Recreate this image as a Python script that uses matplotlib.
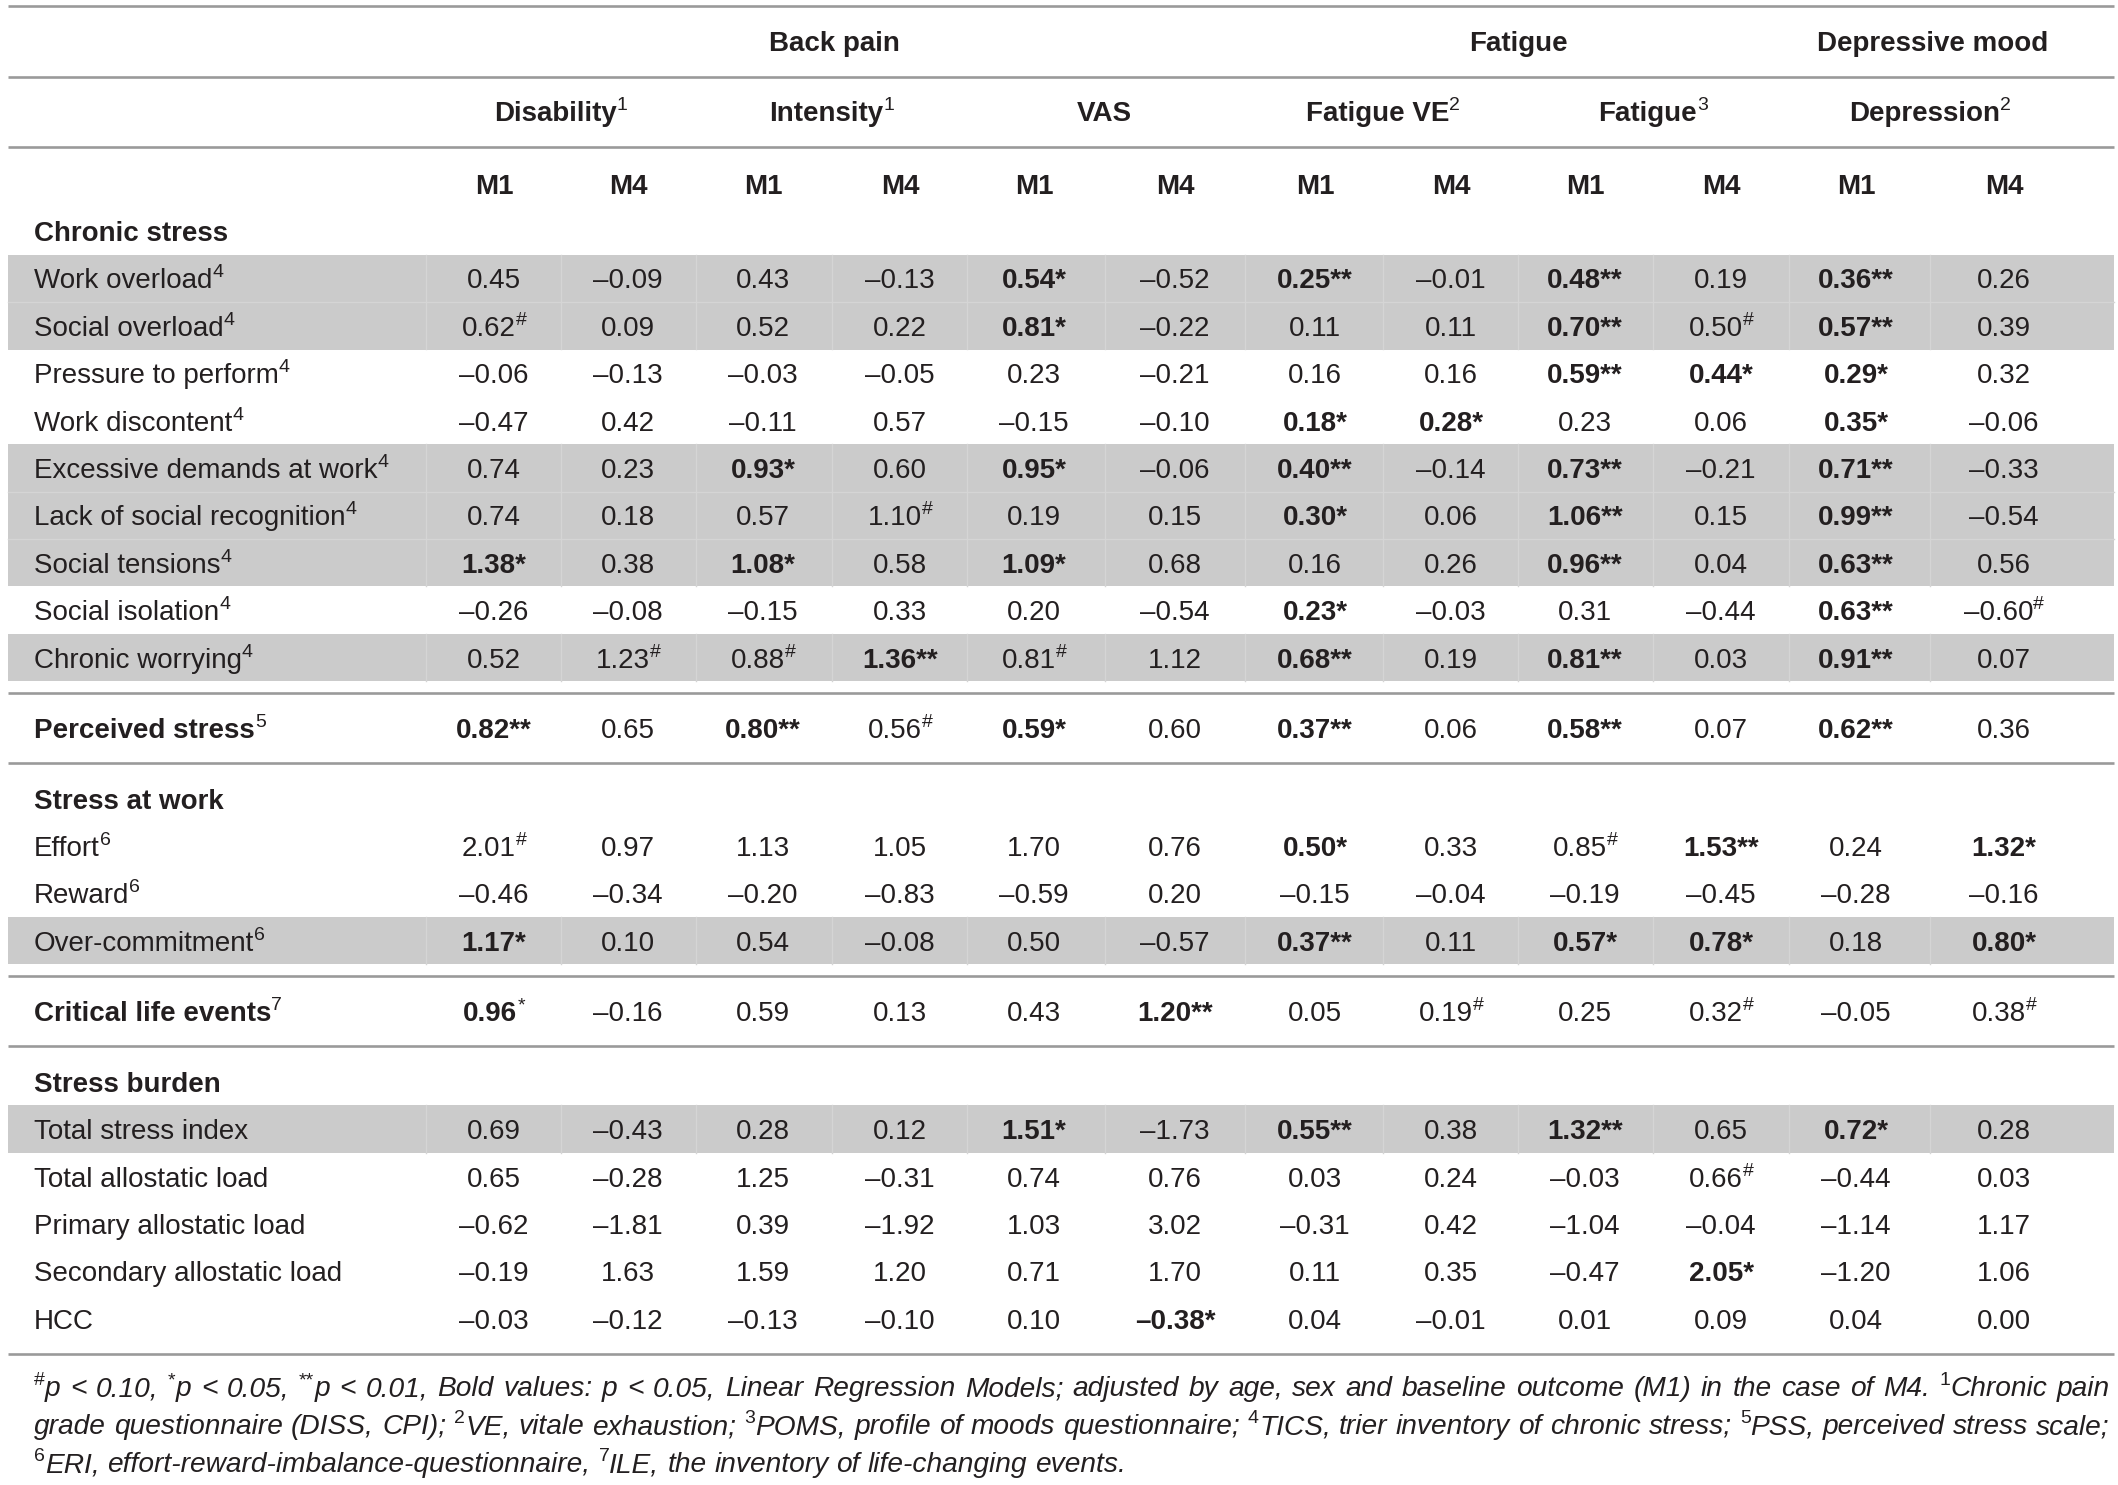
import re
import matplotlib
matplotlib.use("Agg")
import matplotlib.pyplot as plt

# ---------------- data ----------------
group_headers = ["Back pain", "Fatigue", "Depressive mood"]
outcomes = ["Disability", "Intensity", "VAS", "Fatigue VE", "Fatigue", "Depression"]
outcome_notes = ["1", "1", "", "2", "3", "2"]
models = ["M1", "M4"]

chronic_labels = ["Work overload", "Social overload", "Pressure to perform", "Work discontent",
                  "Excessive demands at work", "Lack of social recognition", "Social tensions",
                  "Social isolation", "Chronic worrying"]
chronic_notes = ["4"] * 9
chronic_shaded = [True, True, False, False, True, True, True, False, True]
chronic_vals = [
    ["0.45", "-0.09", "0.43", "-0.13", "0.54*", "-0.52", "0.25**", "-0.01", "0.48**", "0.19", "0.36**", "0.26"],
    ["0.62#", "0.09", "0.52", "0.22", "0.81*", "-0.22", "0.11", "0.11", "0.70**", "0.50#", "0.57**", "0.39"],
    ["-0.06", "-0.13", "-0.03", "-0.05", "0.23", "-0.21", "0.16", "0.16", "0.59**", "0.44*", "0.29*", "0.32"],
    ["-0.47", "0.42", "-0.11", "0.57", "-0.15", "-0.10", "0.18*", "0.28*", "0.23", "0.06", "0.35*", "-0.06"],
    ["0.74", "0.23", "0.93*", "0.60", "0.95*", "-0.06", "0.40**", "-0.14", "0.73**", "-0.21", "0.71**", "-0.33"],
    ["0.74", "0.18", "0.57", "1.10#", "0.19", "0.15", "0.30*", "0.06", "1.06**", "0.15", "0.99**", "-0.54"],
    ["1.38*", "0.38", "1.08*", "0.58", "1.09*", "0.68", "0.16", "0.26", "0.96**", "0.04", "0.63**", "0.56"],
    ["-0.26", "-0.08", "-0.15", "0.33", "0.20", "-0.54", "0.23*", "-0.03", "0.31", "-0.44", "0.63**", "-0.60#"],
    ["0.52", "1.23#", "0.88#", "1.36**", "0.81#", "1.12", "0.68**", "0.19", "0.81**", "0.03", "0.91**", "0.07"],
]

perceived_labels = ["Perceived stress"]
perceived_notes = ["5"]
perceived_shaded = [False]
perceived_vals = [
    ["0.82**", "0.65", "0.80**", "0.56#", "0.59*", "0.60", "0.37**", "0.06", "0.58**", "0.07", "0.62**", "0.36"],
]

work_labels = ["Effort", "Reward", "Over-commitment"]
work_notes = ["6", "6", "6"]
work_shaded = [False, False, True]
work_vals = [
    ["2.01#", "0.97", "1.13", "1.05", "1.70", "0.76", "0.50*", "0.33", "0.85#", "1.53**", "0.24", "1.32*"],
    ["-0.46", "-0.34", "-0.20", "-0.83", "-0.59", "0.20", "-0.15", "-0.04", "-0.19", "-0.45", "-0.28", "-0.16"],
    ["1.17*", "0.10", "0.54", "-0.08", "0.50", "-0.57", "0.37**", "0.11", "0.57*", "0.78*", "0.18", "0.80*"],
]

life_labels = ["Critical life events"]
life_notes = ["7"]
life_shaded = [False]
life_vals = [
    ["0.96^*", "-0.16", "0.59", "0.13", "0.43", "1.20**", "0.05", "0.19#", "0.25", "0.32#", "-0.05", "0.38#"],
]

burden_labels = ["Total stress index", "Total allostatic load", "Primary allostatic load",
                 "Secondary allostatic load", "HCC"]
burden_notes = ["", "", "", "", ""]
burden_shaded = [True, False, False, False, False]
burden_vals = [
    ["0.69", "-0.43", "0.28", "0.12", "1.51*", "-1.73", "0.55**", "0.38", "1.32**", "0.65", "0.72*", "0.28"],
    ["0.65", "-0.28", "1.25", "-0.31", "0.74", "0.76", "0.03", "0.24", "-0.03", "0.66#", "-0.44", "0.03"],
    ["-0.62", "-1.81", "0.39", "-1.92", "1.03", "3.02", "-0.31", "0.42", "-1.04", "-0.04", "-1.14", "1.17"],
    ["-0.19", "1.63", "1.59", "1.20", "0.71", "1.70", "0.11", "0.35", "-0.47", "2.05*", "-1.20", "1.06"],
    ["-0.03", "-0.12", "-0.13", "-0.10", "0.10", "-0.38*", "0.04", "-0.01", "0.01", "0.09", "0.04", "0.00"],
]

blocks = [
    dict(title="Chronic stress", labels=chronic_labels, notes=chronic_notes, vals=chronic_vals,
         shaded=chronic_shaded, bold=False),
    dict(title=None, labels=perceived_labels, notes=perceived_notes, vals=perceived_vals,
         shaded=perceived_shaded, bold=True),
    dict(title="Stress at work", labels=work_labels, notes=work_notes, vals=work_vals,
         shaded=work_shaded, bold=False),
    dict(title=None, labels=life_labels, notes=life_notes, vals=life_vals,
         shaded=life_shaded, bold=True),
    dict(title="Stress burden", labels=burden_labels, notes=burden_notes, vals=burden_vals,
         shaded=burden_shaded, bold=False),
]

footnote_lines = [
    "^{#}p < 0.10, ^{*}p < 0.05, ^{**}p < 0.01, Bold values: p < 0.05, Linear Regression Models; "
    "adjusted by age, sex and baseline outcome (M1) in the case of M4. ^{1}Chronic pain",
    "grade questionnaire (DISS, CPI); ^{2}VE, vitale exhaustion; ^{3}POMS, profile of moods "
    "questionnaire; ^{4}TICS, trier inventory of chronic stress; ^{5}PSS, perceived stress scale;",
    "^{6}ERI, effort-reward-imbalance-questionnaire, ^{7}ILE, the inventory of life-changing events.",
]

# ---------------- style / layout ----------------
W, H = 2118, 1485
FONT = "Liberation Sans"
TXT = "#231f20"
FS = 20
SUPFS = 14
RAISE = 11
BASE = 10          # baseline offset from visual row centre
PITCH = 47.4
SHADE = "#cbcbcb"
SEP = "#d5d5d5"
RULE = "#9a9a9a"
X0, X1 = 8, 2114
LABEL_X = 34

col_x = [494, 628, 763, 900, 1034, 1175, 1315, 1451, 1585, 1721, 1856, 2004]

fig = plt.figure(figsize=(W / 100, H / 100), dpi=100)
ax = fig.add_axes([0, 0, 1, 1])
ax.set_xlim(0, W)
ax.set_ylim(H, 0)
ax.axis("off")
renderer = fig.canvas.get_renderer()


def props(size=FS, weight="normal", style="normal"):
    return dict(fontsize=size, fontweight=weight, fontstyle=style, family=FONT, color=TXT)


def tw(s, p):
    if not s:
        return 0.0
    t = ax.text(0, 0, s, **p)
    w = t.get_window_extent(renderer).width
    t.remove()
    return w


def draw_runs(x, baseline, runs, ha="left"):
    """runs: list of (text, props, is_sup)"""
    widths = [tw(s, p) for s, p, _ in runs]
    total = sum(widths)
    if ha == "center":
        x = x - total / 2
    for (s, p, sup), w in zip(runs, widths):
        if s:
            ax.text(x, baseline - (RAISE if sup else 0), s, ha="left", va="baseline", **p)
        x += w
    return total


def cell_runs(s):
    s = s.replace("-", "\u2013")
    if s.endswith("^*"):
        return [(s[:-2], props(weight="bold"), False), ("*", props(SUPFS), True)]
    if s.endswith("#"):
        return [(s[:-1], props(), False), ("#", props(SUPFS), True)]
    if "*" in s:
        return [(s, props(weight="bold"), False)]
    return [(s, props(), False)]


def hrule(y):
    ax.plot([X0, X1], [y, y], color=RULE, lw=1.9, solid_capstyle="butt")


# ---------------- header ----------------
hrule(6)
pairs = [(col_x[2 * i] + col_x[2 * i + 1]) / 2 for i in range(6)]
grp_x = [(col_x[0] + col_x[5]) / 2, (col_x[6] + col_x[9]) / 2, (col_x[10] + col_x[11]) / 2 + 3]
for gx, g in zip(grp_x, group_headers):
    draw_runs(gx, 41 + BASE, [(g, props(weight="bold"), False)], ha="center")
hrule(77)
for px, o, n in zip(pairs, outcomes, outcome_notes):
    draw_runs(px, 111 + BASE, [(o, props(weight="bold"), False), (n, props(SUPFS), True)], ha="center")
hrule(147)
for i, cx in enumerate(col_x):
    draw_runs(cx, 184 + BASE, [(models[i % 2], props(weight="bold"), False)], ha="center")

# ---------------- body ----------------
bounds = [426] + [(col_x[i] + col_x[i + 1]) / 2 for i in range(len(col_x) - 1)]

y_next = 184 + 47
for block in blocks:
    y = y_next
    if block["title"]:
        draw_runs(LABEL_X, y + BASE, [(block["title"], props(weight="bold"), False)])
        y += PITCH
    prev_shaded = False
    for lab, note, vals, sh in zip(block["labels"], block["notes"], block["vals"], block["shaded"]):
        if sh:
            top, bot = y - PITCH / 2, y + PITCH / 2
            ax.fill_between([X0, X1], top, bot, color=SHADE, lw=0, zorder=0)
            for b in bounds:
                ax.plot([b, b], [top, bot], color=SEP, lw=1.0, zorder=0.5)
            if prev_shaded:
                ax.plot([X0, X1], [top, top], color=SEP, lw=1.0, zorder=0.5)
        prev_shaded = sh
        lw_ = "bold" if block["bold"] else "normal"
        draw_runs(LABEL_X, y + BASE, [(lab, props(weight=lw_), False), (note, props(SUPFS), True)])
        for cx, v in zip(col_x, vals):
            draw_runs(cx, y + BASE, cell_runs(v), ha="center")
        y += PITCH
    rule_y = y - PITCH + 35
    hrule(rule_y)
    y_next = rule_y + 35.5

# ---------------- footnote ----------------
FN_FS = 21.5
FN_SUP = 14
fn_left, fn_right = 34, 2110


def word_runs(word, fs):
    runs = []
    for part in re.split(r"(\^\{[^}]*\})", word):
        if not part:
            continue
        if part.startswith("^{"):
            runs.append((part[2:-1], props(FN_SUP), True))
        else:
            runs.append((part, props(fs, style="italic"), False))
    return runs


def line_width(line, fs):
    words = line.split(" ")
    ws = [sum(tw(s, p) for s, p, _ in word_runs(w, fs)) for w in words]
    sp = tw("a a", props(fs, style="italic")) - tw("aa", props(fs, style="italic"))
    return sum(ws) + sp * (len(words) - 1)


while max(line_width(l, FN_FS) for l in footnote_lines[:2]) > (fn_right - fn_left) and FN_FS > 12:
    FN_FS -= 0.25

fn_base = [1396, 1434, 1472]
space_w = tw("a a", props(FN_FS, style="italic")) - tw("aa", props(FN_FS, style="italic"))
for li, line in enumerate(footnote_lines):
    words = line.split(" ")
    wruns = [word_runs(w, FN_FS) for w in words]
    wws = [sum(tw(s, p) for s, p, _ in r) for r in wruns]
    if li < len(footnote_lines) - 1:
        gap = (fn_right - fn_left - sum(wws)) / (len(words) - 1)
    else:
        gap = space_w
    x = fn_left
    for r, ww in zip(wruns, wws):
        draw_runs(x, fn_base[li], r)
        x += ww + gap

fig.savefig("out.png", dpi=100, facecolor="white")
